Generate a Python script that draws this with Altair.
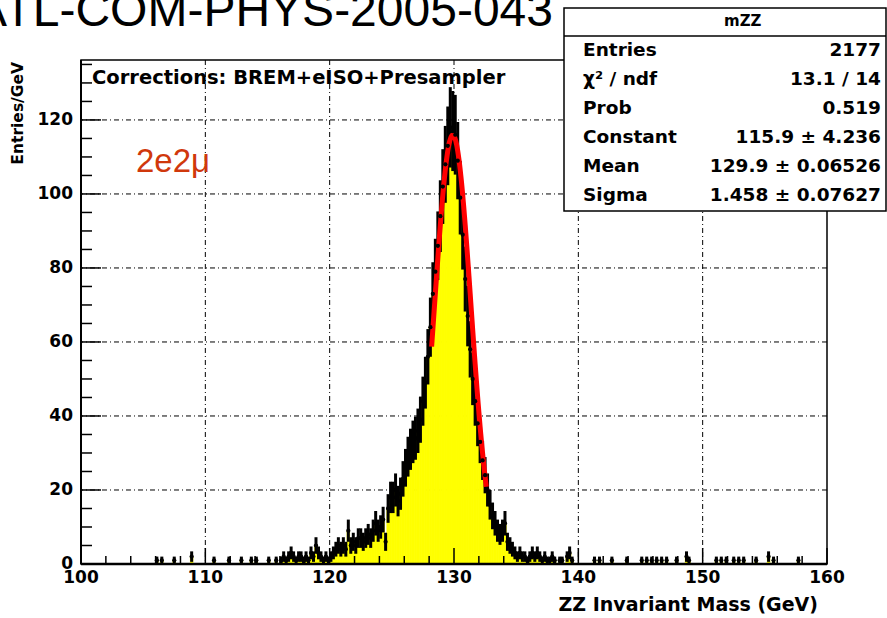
import altair as alt
import numpy as np
import pandas as pd

# ---------------- data ----------------
# counts per 0.2 GeV bin, bin centres 115.1, 115.3, ... 139.9
core_115_120 = [1, 0, 0, 1, 0, 1, 2, 1, 2, 3, 2, 1, 2, 2, 1, 2, 1, 3, 2, 5, 3, 2, 1, 2, 1]
core_120_125 = [2, 3, 4, 5, 4, 5, 4, 9, 5, 6, 5, 7, 7, 6, 7, 8, 7, 9, 11, 9, 10, 12, 6, 15, 18]
core_125_130 = [18, 20, 17, 19, 23, 26, 29, 31, 33, 34, 36, 39, 44, 49, 56, 64, 73, 79, 86, 94,
                102, 108, 113, 118, 117]
core_130_135 = [116, 109, 99, 89, 77, 67, 58, 50, 44, 38, 33, 28, 24, 20, 16, 13, 11, 9, 8, 9,
                11, 6, 5, 4, 3]
core_135_140 = [2, 3, 2, 2, 1, 2, 3, 2, 3, 2, 1, 2, 1, 1, 2, 1, 0, 1, 1, 0, 2, 3, 1, 0, 0]

# sparse tails (bin centre, count)
tail_low_centres = [106.1, 106.5, 107.5, 108.9, 110.7, 111.9, 112.9, 113.7, 114.1]
tail_low_counts = [1, 1, 1, 2, 1, 1, 1, 1, 1]
tail_high_centres = [141.3, 141.7, 142.7, 143.9, 145.1, 145.5, 145.9, 146.3, 146.7, 147.1,
                     147.9, 148.7, 148.9, 151.1, 151.5, 151.9, 152.5, 152.9, 153.3, 154.3,
                     155.3, 155.7, 157.7]
tail_high_counts = [1, 1, 1, 1, 1, 1, 1, 1, 1, 1, 1, 2, 1, 1, 1, 1, 1, 1, 1, 1, 2, 1, 1]

bin_width = 0.2
core_first_centre = 115.1

# Gaussian fit parameters (stats box)
fit_constant, fit_mean, fit_sigma = 115.9, 129.9, 1.458
fit_range = [128.2, 132.6]

x_ticks_major = [100, 110, 120, 130, 140, 150, 160]
y_ticks_major = [0, 20, 40, 60, 80, 100, 120]
x_grid = [110, 120, 130, 140, 150]
y_grid = [20, 40, 60, 80, 100, 120]
x_ticks_minor = [v for v in range(102, 160, 2) if v % 10 != 0]
y_ticks_minor = [v for v in range(5, 136, 5) if v % 20 != 0]

title_text = "ATL-COM-PHYS-2005-043"
corrections_text = "Corrections: BREM+eISO+Presampler"
channel_text = "2e2\u03bc"
x_title = "ZZ Invariant Mass (GeV)"
y_title = "Entries/GeV"
stats_header = "mZZ"
stat_names = ["Entries", "\u03c7\u00b2 / ndf", "Prob", "Constant", "Mean", "Sigma"]
stat_values = ["2177", "13.1 / 14", "0.519", "115.9 \u00b1 4.236", "129.9 \u00b1 0.06526",
               "1.458 \u00b1 0.07627"]

# ---------------- build table ----------------
core = core_115_120 + core_120_125 + core_125_130 + core_130_135 + core_135_140
centres = [round(core_first_centre + bin_width * i, 2) for i in range(len(core))]
centres = tail_low_centres + centres + tail_high_centres
counts = tail_low_counts + core + tail_high_counts
df = pd.DataFrame({"c": centres, "n": counts})
df = df[df.n > 0].reset_index(drop=True)
df["lo"] = df.c - bin_width / 2
df["hi"] = df.c + bin_width / 2
df["elo"] = df.n - np.sqrt(df.n)
df["ehi"] = df.n + np.sqrt(df.n)

W, H = 746, 504
xs = alt.Scale(domain=[100, 160], nice=False, zero=False)
ys = alt.Scale(domain=[0, 136.2], nice=False, zero=True)
BOLD = "DejaVu Sans"

# ---------------- layers ----------------
grid_x = alt.Chart(pd.DataFrame({"g": x_grid})).mark_rule(
    color="black", strokeWidth=1, strokeDash=[5, 3, 1, 3]
).encode(x=alt.X("g:Q", scale=xs, axis=None))
grid_y = alt.Chart(pd.DataFrame({"g": y_grid})).mark_rule(
    color="black", strokeWidth=1, strokeDash=[5, 3, 1, 3]
).encode(y=alt.Y("g:Q", scale=ys, axis=None))

hist = alt.Chart(df).mark_rect(color="#ffff00", stroke="#ffff00", strokeWidth=0.8).encode(
    x=alt.X("lo:Q", scale=xs, axis=None),
    x2="hi:Q",
    y=alt.Y("n:Q", scale=ys, axis=None),
    y2=alt.datum(0),
)

fit = alt.Chart(pd.DataFrame({"lo": [fit_range[0]], "hi": [fit_range[1]]})).transform_calculate(
    xs_="sequence(datum.lo, datum.hi + 0.001, 0.05)"
).transform_flatten(["xs_"], as_=["fx"]).transform_calculate(
    fy=f"{fit_constant} * exp(-0.5 * pow((datum.fx - {fit_mean}) / {fit_sigma}, 2))"
).mark_line(color="#ff0000", strokeWidth=5).encode(
    x=alt.X("fx:Q", scale=xs, axis=None), y=alt.Y("fy:Q", scale=ys, axis=None)
)

err_v = alt.Chart(df).mark_rule(color="black", strokeWidth=3).encode(
    x=alt.X("c:Q", scale=xs, axis=None), y=alt.Y("elo:Q", scale=ys, axis=None), y2="ehi:Q")
err_h = alt.Chart(df).mark_rule(color="black", strokeWidth=3).encode(
    x=alt.X("lo:Q", scale=xs, axis=None), x2="hi:Q", y=alt.Y("n:Q", scale=ys, axis=None))
markers = alt.Chart(df).mark_point(filled=True, shape="circle", size=18, color="black",
                                   opacity=1).encode(
    x=alt.X("c:Q", scale=xs, axis=None), y=alt.Y("n:Q", scale=ys, axis=None))

# ticks (inward)
ty_major = alt.Chart(pd.DataFrame({"t": y_ticks_major})).mark_rule(color="black", strokeWidth=1.5).encode(
    y=alt.Y("t:Q", scale=ys, axis=None), x=alt.value(0), x2=alt.value(20))
ty_minor = alt.Chart(pd.DataFrame({"t": y_ticks_minor})).mark_rule(color="black", strokeWidth=1.5).encode(
    y=alt.Y("t:Q", scale=ys, axis=None), x=alt.value(0), x2=alt.value(11))
tx_major = alt.Chart(pd.DataFrame({"t": x_ticks_major})).mark_rule(color="black", strokeWidth=1.5).encode(
    x=alt.X("t:Q", scale=xs, axis=None), y=alt.value(H), y2=alt.value(H - 16))
tx_minor = alt.Chart(pd.DataFrame({"t": x_ticks_minor})).mark_rule(color="black", strokeWidth=1.5).encode(
    x=alt.X("t:Q", scale=xs, axis=None), y=alt.value(H), y2=alt.value(H - 8))

# tick labels
lab_y = alt.Chart(pd.DataFrame({"t": y_ticks_major})).mark_text(
    font=BOLD, fontWeight="bold", fontSize=17, align="right", baseline="middle", color="black"
).encode(y=alt.Y("t:Q", scale=ys, axis=None), x=alt.value(-8), text="t:Q")
lab_x = alt.Chart(pd.DataFrame({"t": x_ticks_major})).mark_text(
    font=BOLD, fontWeight="bold", fontSize=17, align="center", baseline="middle", color="black"
).encode(x=alt.X("t:Q", scale=xs, axis=None), y=alt.value(H + 14), text="t:Q")

frame_bottom = alt.Chart(pd.DataFrame({"a": [0]})).mark_rule(color="black", strokeWidth=2.5).encode(
    x=alt.value(0), x2=alt.value(W), y=alt.value(H))
frame_left = alt.Chart(pd.DataFrame({"a": [0]})).mark_rule(color="black", strokeWidth=2).encode(
    x=alt.value(0), y=alt.value(0), y2=alt.value(H))


def label(text, x, y, size, font=BOLD, weight="bold", align="left", color="black",
          angle=0, baseline="middle"):
    return alt.Chart(pd.DataFrame({"t": [text]})).mark_text(
        font=font, fontWeight=weight, fontSize=size, align=align, baseline=baseline,
        color=color, angle=angle
    ).encode(text="t:N", x=alt.value(x), y=alt.value(y))


texts = [
    label(title_text, -106, -34, 48, font="Liberation Sans", weight="normal",
          baseline="alphabetic"),
    label(corrections_text, 11, 18, 19.5),
    label(channel_text, 55, 102, 33, font="Liberation Sans", weight="normal",
          color="#d0380c"),
    label(x_title, 737, 545, 19, align="right"),
    label(y_title, -63, 2, 15.5, align="right", angle=270),
]

box = alt.Chart(pd.DataFrame({"a": [0]})).mark_rect(
    fill="white", stroke="black", strokeWidth=1.5
).encode(x=alt.value(483), x2=alt.value(805), y=alt.value(-52), y2=alt.value(151))
box_div = alt.Chart(pd.DataFrame({"a": [0]})).mark_rule(color="black", strokeWidth=1.5).encode(
    x=alt.value(483), x2=alt.value(805), y=alt.value(-24))

stats = [label(stats_header, 643, -39, 15)]
row_y = [-10, 19, 48, 77, 106, 135]
for name, val, yy in zip(stat_names, stat_values, row_y):
    stats.append(label(name, 502, yy, 18.5))
    stats.append(label(val, 800, yy, 18.5, align="right"))

chart = alt.layer(
    grid_x, grid_y, hist, err_v, fit, err_h, markers,
    ty_major, ty_minor, tx_major, tx_minor, frame_bottom, frame_left, lab_y, lab_x,
    *texts, box, box_div, *stats
).properties(
    width=W, height=H,
    autosize=alt.AutoSizeParams(type="none"),
    padding={"left": 81, "top": 60, "right": 60, "bottom": 54},
    background="white",
).configure_view(stroke="black", strokeWidth=1.5)

chart.save("out.html", embed_options={"renderer": "svg", "actions": False})
